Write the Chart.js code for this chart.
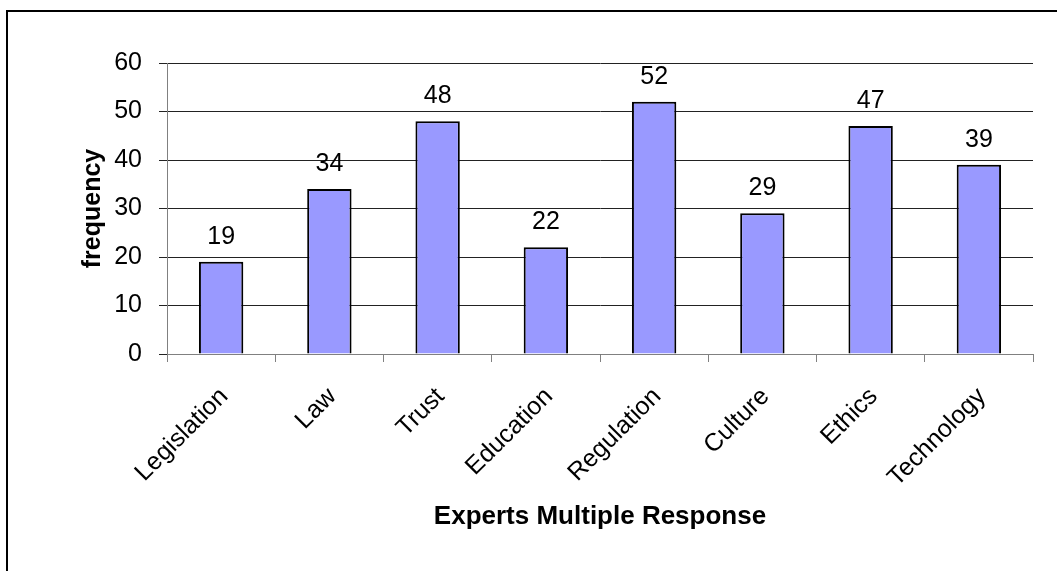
<!DOCTYPE html>
<html>
<head>
<meta charset="utf-8">
<script src="https://cdn.jsdelivr.net/npm/chart.js@4/dist/chart.umd.min.js"></script>
<style>
  html, body { margin: 0; padding: 0; background: #fff; }
  #wrap { width: 1057px; height: 571px; position: relative; }
</style>
</head>
<body>
<div id="wrap"><canvas id="chart"></canvas></div>
<script>
const categories = ['Legislation', 'Law', 'Trust', 'Education', 'Regulation', 'Culture', 'Ethics', 'Technology'];
const frequency = [19, 34, 48, 22, 52, 29, 47, 39];
const yTicks = [0, 10, 20, 30, 40, 50, 60];

const fontFamily = '"Liberation Sans", Arial, sans-serif';

// value labels above every bar
const valueLabels = {
  id: 'valueLabels',
  afterDatasetsDraw(chart) {
    const {ctx} = chart;
    const meta = chart.getDatasetMeta(0);
    ctx.save();
    ctx.font = '25px ' + fontFamily;
    ctx.fillStyle = '#000';
    ctx.textAlign = 'center';
    ctx.textBaseline = 'alphabetic';
    meta.data.forEach((bar, i) => {
      ctx.fillText(String(chart.data.datasets[0].data[i]), bar.x, bar.y - 18);
    });
    ctx.restore();
  }
};

// the frame round the chart
const frame = {
  id: 'frame',
  beforeDraw(chart) {
    const {ctx} = chart;
    ctx.save();
    ctx.fillStyle = '#fff';
    ctx.fillRect(0, 0, chart.width, chart.height);
    ctx.strokeStyle = '#000';
    ctx.lineWidth = 2;
    ctx.beginPath();
    ctx.moveTo(7, chart.height);
    ctx.lineTo(7, 11);
    ctx.lineTo(chart.width, 11);
    ctx.stroke();
    ctx.restore();
  }
};

new Chart(document.getElementById('chart'), {
  type: 'bar',
  data: {
    labels: categories,
    datasets: [{
      data: frequency,
      backgroundColor: '#9999FF',
      borderColor: '#000',
      borderWidth: 2,
      barPercentage: 0.41,
      categoryPercentage: 1
    }]
  },
  options: {
    responsive: true,
    maintainAspectRatio: false,
    animation: false,
    layout: {padding: {top: 63, right: 24, bottom: 39, left: 0}},
    plugins: {
      legend: {display: false},
      tooltip: {enabled: false}
    },
    scales: {
      x: {
        afterFit(scale) { scale.height = 178; },
        grid: {display: true, drawOnChartArea: false, offset: true, tickLength: 8, color: '#808080'},
        border: {color: '#808080', width: 1},
        ticks: {
          color: '#000',
          font: {family: fontFamily, size: 25},
          minRotation: 45,
          maxRotation: 45,
          padding: 20,
          labelOffset: 3,
          autoSkip: false
        },
        title: {
          display: true,
          text: 'Experts Multiple Response',
          color: '#000',
          font: {family: fontFamily, size: 26, weight: 'bold'},
          padding: 0
        }
      },
      y: {
        min: 0,
        max: 60,
        afterFit(scale) { scale.width = 167; },
        afterBuildTicks(scale) { scale.ticks = yTicks.map(v => ({value: v})); },
        grid: {color: '#222', tickLength: 8, lineWidth: 1},
        border: {color: '#808080', width: 1},
        ticks: {
          color: '#000',
          font: {family: fontFamily, size: 25},
          padding: 17
        },
        title: {
          display: true,
          text: 'frequency',
          color: '#000',
          font: {family: fontFamily, size: 25, weight: 'bold'},
          padding: {top: 78, bottom: 0}
        }
      }
    }
  },
  plugins: [frame, valueLabels]
});
</script>
</body>
</html>
